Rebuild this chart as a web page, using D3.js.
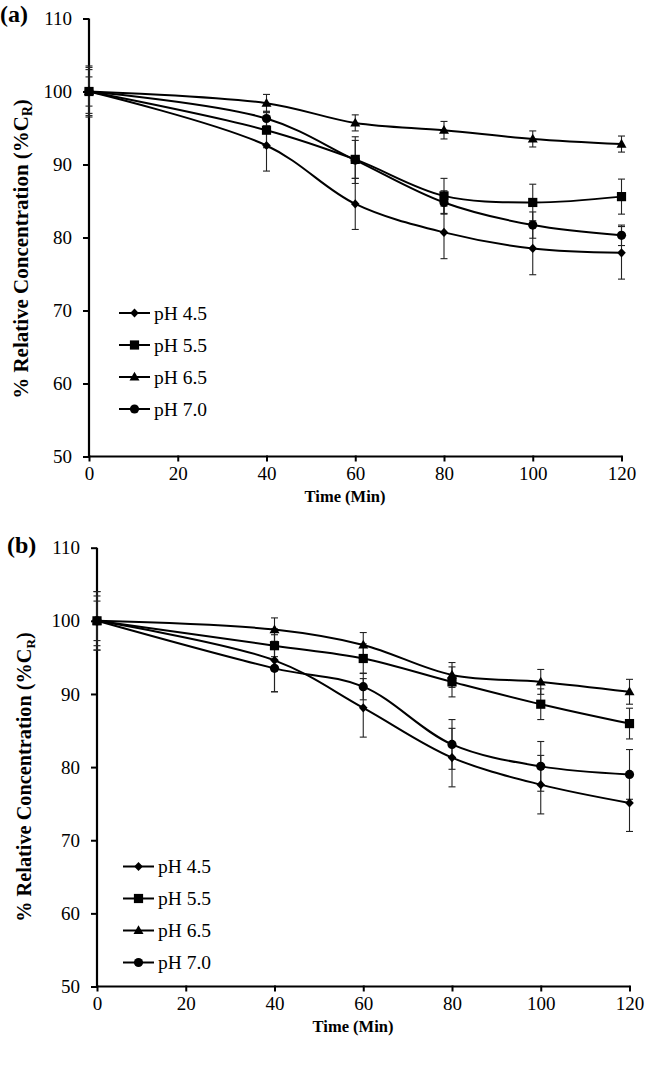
<!DOCTYPE html>
<html><head><meta charset="utf-8">
<script src="https://cdnjs.cloudflare.com/ajax/libs/d3/7.8.5/d3.min.js"></script>
<style>body{margin:0;background:#fff}svg{display:block}</style>
</head><body>
<svg id="c" width="646" height="1066"></svg>
<script>
const times = [0, 40, 60, 80, 100, 120];
const seriesNames = ["pH 4.5", "pH 5.5", "pH 6.5", "pH 7.0"];
const yTicks = [50, 60, 70, 80, 90, 100, 110];
const xTicks = [0, 20, 40, 60, 80, 100, 120];

// Panel (a)
const a_pH45 = [100, 92.6, 84.6, 80.7, 78.5, 77.9];
const a_pH55 = [100, 94.7, 90.7, 85.7, 84.8, 85.6];
const a_pH65 = [100, 98.4, 95.7, 94.7, 93.5, 92.8];
const a_pH70 = [100, 96.3, 90.6, 84.8, 81.7, 80.3];
const a_err45 = [3.5, 3.5, 3.5, 3.6, 3.6, 3.6];
const a_err55 = [3.0, 2.4, 2.6, 2.4, 2.5, 2.4];
const a_err65 = [2.0, 1.2, 1.1, 1.2, 1.1, 1.1];
const a_err70 = [3.3, 1.0, 3.2, 1.6, 1.8, 1.4];

// Panel (b)
const b_pH45 = [100, 94.6, 88.1, 81.3, 77.6, 75.1];
const b_pH55 = [100, 96.6, 94.85, 91.65, 88.6, 85.95];
const b_pH65 = [100, 98.8, 96.7, 92.6, 91.65, 90.3];
const b_pH70 = [100, 93.5, 91.0, 83.1, 80.1, 79.0];
const b_err45 = [4.0, 4.3, 4.0, 4.0, 4.0, 3.9];
const b_err55 = [3.4, 1.5, 2.0, 2.05, 2.1, 2.1];
const b_err65 = [2.7, 1.6, 1.7, 1.7, 1.7, 1.7];
const b_err70 = [4.0, 3.2, 1.8, 3.4, 3.4, 3.4];

const shapes = ["diamond", "square", "triangle", "circle"];
const FONT = "'Liberation Serif','Times New Roman',serif";

function marker(g, shape, x, y) {
  if (shape === "diamond") {
    g.append("path").attr("d", `M${x},${y-4.6}L${x+4.3},${y}L${x},${y+4.6}L${x-4.3},${y}Z`).attr("fill", "#000");
  } else if (shape === "square") {
    g.append("rect").attr("x", x-4.6).attr("y", y-4.6).attr("width", 9.2).attr("height", 9.2).attr("fill", "#000");
  } else if (shape === "triangle") {
    g.append("path").attr("d", `M${x},${y-5.2}L${x+5},${y+3.6}L${x-5},${y+3.6}Z`).attr("fill", "#000");
  } else {
    g.append("circle").attr("cx", x).attr("cy", y).attr("r", 4.6).attr("fill", "#000");
  }
}

function panel(opt) {
  const svg = d3.select("#c");
  const g = svg.append("g");
  const x = d3.scaleLinear().domain([0, 120]).range([opt.x0, opt.x1]);
  const y = d3.scaleLinear().domain([50, 110]).range([opt.y0, opt.y1]);

  const yAxis = d3.axisLeft(y).tickValues(yTicks).tickSize(6).tickPadding(11);
  const xAxis = d3.axisBottom(x).tickValues(xTicks).tickSize(5).tickPadding(5);
  const ya = g.append("g").attr("transform", `translate(${opt.x0},0)`).call(yAxis);
  const xa = g.append("g").attr("transform", `translate(0,${opt.y0})`).call(xAxis);
  [ya, xa].forEach(a => {
    a.select(".domain").attr("stroke", "#000").attr("stroke-width", 2.2);
    a.selectAll(".tick line").attr("stroke", "#000").attr("stroke-width", 2);
    a.selectAll("text").attr("font-family", FONT).attr("font-size", 19).attr("fill", "#000");
  });
  ya.select(".domain").attr("d", `M0,${opt.y1}V${opt.y0}`);
  xa.select(".domain").attr("d", `M${opt.x0},0H${opt.x1}`);
  xa.selectAll(".tick line").attr("y1", -1);

  const line = d3.line().x((d, i) => x(times[i])).y(d => y(d)).curve(d3.curveCatmullRom.alpha(0.5));

  opt.series.forEach((s) => {
    const eg = g.append("g").attr("stroke", "#222").attr("stroke-width", 1.1);
    s.vals.forEach((v, i) => {
      const cx = x(times[i]);
      const t = y(v + s.err[i]), b = y(v - s.err[i]);
      eg.append("line").attr("x1", cx).attr("x2", cx).attr("y1", t).attr("y2", b);
      eg.append("line").attr("x1", cx - 3.5).attr("x2", cx + 3.5).attr("y1", t).attr("y2", t);
      eg.append("line").attr("x1", cx - 3.5).attr("x2", cx + 3.5).attr("y1", b).attr("y2", b);
    });
  });
  opt.series.forEach((s, k) => {
    g.append("path").datum(s.vals).attr("d", line).attr("fill", "none").attr("stroke", "#000").attr("stroke-width", 2);
    const mg = g.append("g");
    s.vals.forEach((v, i) => marker(mg, shapes[k], x(times[i]), y(v)));
  });

  const lg = g.append("g");
  seriesNames.forEach((n, k) => {
    const ly = opt.legY + k * 32;
    lg.append("line").attr("x1", opt.legX).attr("x2", opt.legX + 31).attr("y1", ly).attr("y2", ly).attr("stroke", "#000").attr("stroke-width", 2);
    marker(lg, shapes[k], opt.legX + 15.5, ly);
    lg.append("text").attr("x", opt.legX + 35).attr("y", ly).attr("dy", "0.35em")
      .attr("font-family", FONT).attr("font-size", 19.5).text(n);
  });

  g.append("text").attr("x", opt.xTitleX).attr("y", opt.xTitleY).attr("text-anchor", "middle")
    .attr("font-family", FONT).attr("font-weight", "bold").attr("font-size", 16.5).text("Time (Min)");
  const yt = g.append("text").attr("transform", `translate(${opt.yTitleX},${opt.yTitleY}) rotate(-90)`)
    .attr("text-anchor", "middle").attr("font-family", FONT).attr("font-weight", "bold").attr("font-size", opt.yTitleSize);
  yt.append("tspan").text("% Relative Concentration (%C");
  yt.append("tspan").attr("font-size", opt.yTitleSize * 0.65).attr("dy", 4).text("R");
  yt.append("tspan").attr("dy", -4).text(")");

  g.append("text").attr("x", opt.labX).attr("y", opt.labY).attr("font-family", FONT)
    .attr("font-weight", "bold").attr("font-size", 24).text(opt.label);
}

panel({
  x0: 89, x1: 621.5, y0: 456.5, y1: 18.5,
  series: [
    {vals: a_pH45, err: a_err45}, {vals: a_pH55, err: a_err55},
    {vals: a_pH65, err: a_err65}, {vals: a_pH70, err: a_err70}],
  legX: 119, legY: 313,
  xTitleX: 345, xTitleY: 502, yTitleX: 28, yTitleY: 249, yTitleSize: 21,
  labX: 0, labY: 22, label: "(a)"
});
panel({
  x0: 97, x1: 629.5, y0: 986.5, y1: 547.7,
  series: [
    {vals: b_pH45, err: b_err45}, {vals: b_pH55, err: b_err55},
    {vals: b_pH65, err: b_err65}, {vals: b_pH70, err: b_err70}],
  legX: 123, legY: 866.5,
  xTitleX: 353, xTitleY: 1032, yTitleX: 31, yTitleY: 777, yTitleSize: 20.3,
  labX: 7, labY: 553, label: "(b)"
});
</script>
</body></html>
